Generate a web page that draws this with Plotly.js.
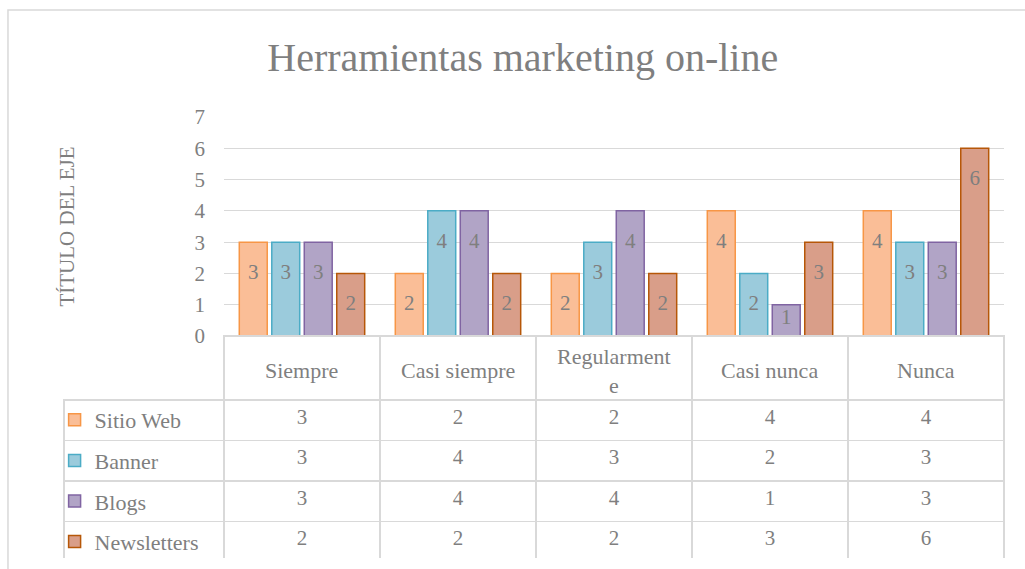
<!DOCTYPE html>
<html>
<head>
<meta charset="utf-8">
<script src="https://cdn.plot.ly/plotly-3.0.1.min.js"></script>
<style>html,body{margin:0;padding:0;background:#fff;}#chart{width:1025px;height:569px;}</style>
</head>
<body>
<div id="chart"></div>
<script>
// ---- data ----
var categories = ['Siempre', 'Casi siempre', 'Regularmente', 'Casi nunca', 'Nunca'];
var headerLabels = ['Siempre', 'Casi siempre', 'Regularment<br>e', 'Casi nunca', 'Nunca'];
var seriesNames = ['Sitio Web', 'Banner', 'Blogs', 'Newsletters'];
var sitioWeb = [3, 2, 2, 4, 4];
var banner = [3, 4, 3, 2, 3];
var blogs = [3, 4, 4, 1, 3];
var newsletters = [2, 2, 2, 3, 6];
var yTicks = [0, 1, 2, 3, 4, 5, 6, 7];

// ---- styles ----
var fills = ['#FABE97', '#9BCBDC', '#B1A4C6', '#D99E89'];
var borders = ['#F79646', '#4BACC6', '#8064A2', '#B65708'];
var txt = '#7F7F7F';
var grid = '#D9D9D9';
var FONT = 'Liberation Serif, Times New Roman, serif';

var seriesValues = [sitioWeb, banner, blogs, newsletters];
var traces = [];
seriesValues.forEach(function (vals, i) {
  traces.push({
    type: 'bar', name: seriesNames[i], x: categories, y: vals,
    marker: { color: fills[i], line: { color: borders[i], width: 1.5 } },
    offsetgroup: 'g' + i, alignmentgroup: 'a',
    legendgroup: 'g' + i, hoverinfo: 'x+y+name'
  });
});
seriesValues.forEach(function (vals, i) {
  traces.push({
    type: 'scatter', mode: 'markers+text', x: categories, y: vals,
    text: vals.map(String), textposition: 'bottom center',
    textfont: { family: FONT, size: 21, color: txt },
    // label sits one step inside the bar top, or just under the top for short bars
    marker: { size: vals.map(function (v) { return v >= 2 ? 32 : 4; }), opacity: 0 },
    orientation: 'v', offsetgroup: 'g' + i, alignmentgroup: 'a',
    showlegend: false, hoverinfo: 'skip', cliponaxis: false
  });
});

// data table
var cellCols = [seriesNames.map(function () { return ''; })];
categories.forEach(function (c, j) {
  cellCols.push(seriesValues.map(function (v) { return v[j]; }));
});
var clear = 'rgba(0,0,0,0)';
traces.push({
  type: 'table',
  domain: { x: [0, 1], y: [0, 0.5045] },
  columnwidth: [160, 156, 156, 156, 156, 156],
  header: {
    values: [''].concat(categories.map(function () { return ''; })),
    height: 64, align: 'center',
    fill: { color: clear },
    line: { color: [clear].concat(categories.map(function () { return grid; })), width: 1.5 },
    font: { family: FONT, size: 22, color: txt }
  },
  cells: {
    values: cellCols,
    height: 40.5, align: 'center',
    fill: { color: 'white' },
    line: { color: grid, width: 1.5 },
    font: { family: FONT, size: 21, color: txt }
  }
});

// table header: category names, placed on the x axis categories
var annotations = categories.map(function (c, j) {
  return {
    xref: 'x', yref: 'paper', x: c, y: 0.426,
    text: headerLabels[j], showarrow: false,
    xanchor: 'center', yanchor: 'middle', align: 'center',
    font: { family: FONT, size: 22, color: txt }
  };
});

var layout = {
  width: 1025, height: 569,
  margin: { l: 64, r: 21, t: 117, b: 6 },
  paper_bgcolor: 'white', plot_bgcolor: 'white',
  font: { family: FONT, color: txt },
  title: {
    text: 'Herramientas marketing on-line',
    font: { family: FONT, size: 40, color: txt },
    x: 0.51, xref: 'container', xanchor: 'center',
    y: 0.9, yref: 'container', yanchor: 'middle'
  },
  barmode: 'group', bargap: 0.167, bargroupgap: 0.14,
  scattermode: 'group', scattergap: 0.167,
  xaxis: {
    domain: [0.1702, 1], type: 'category', showticklabels: false,
    showgrid: false, zeroline: false, showline: false, fixedrange: true
  },
  yaxis: {
    domain: [0.5045, 1], range: [0, 7], tickvals: yTicks,
    showgrid: true, gridcolor: grid, gridwidth: 1.3, zeroline: false,
    tickfont: { family: FONT, size: 21, color: txt }, ticklabelstandoff: 18,
    title: { text: 'TÍTULO DEL EJE', font: { family: FONT, size: 21, color: txt }, standoff: 114 },
    fixedrange: true
  },
  showlegend: true,
  legend: {
    x: -0.01, xanchor: 'left', y: 0.362, yanchor: 'top',
    bgcolor: 'rgba(0,0,0,0)', tracegroupgap: 9,
    font: { family: FONT, size: 22, color: txt }, traceorder: 'grouped'
  },
  annotations: annotations,
  shapes: [{
    type: 'rect', xref: 'paper', yref: 'paper',
    x0: -0.0596, x1: 1.03, y0: -0.03, y1: 1.242,
    line: { color: grid, width: 1.5 }, fillcolor: 'rgba(0,0,0,0)', layer: 'below'
  }]
};

Plotly.newPlot('chart', traces, layout, { displayModeBar: false, responsive: false });
</script>
</body>
</html>
